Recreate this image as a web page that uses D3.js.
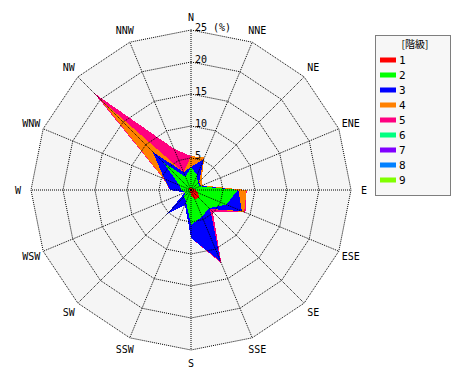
<!DOCTYPE html>
<html><head><meta charset="utf-8">
<script src="https://cdn.jsdelivr.net/npm/d3@7"></script>
<style>body{margin:0;background:#fff}svg{display:block}</style>
</head><body>
<svg id="c" width="470" height="380"></svg>
<script>
const directions = ["N","NNE","NE","ENE","E","ESE","SE","SSE","S","SSW","SW","WSW","W","WNW","NW","NNW"];
const classNames = ["1","2","3","4","5","6","7","8","9"];
const classColors = ["#ff0000","#00ff00","#0000ff","#ff8000","#ff0080","#00ff80","#8000ff","#0080ff","#80ff00"];
// frequency (%) of each class per direction (non-cumulative)
const class1 = [0.3,0.3,0.3,0.5,0.8,1.2,1.8,1.5,0.8,0.3,0.3,0.2,0.2,0.3,0.5,0.3];
const class2 = [3.3,2.2,1.2,1.0,6.5,4.8,2.2,3.0,4.7,1.7,1.2,0.8,1.3,1.7,5.5,1.9];
const class3 = [0.0,2.7,0.3,0.2,0.1,2.6,0.2,7.6,2.0,0.5,3.9,0.0,1.8,2.5,2.5,0.8];
const class4 = [1.7,0.3,0.5,0.2,1.3,0.4,0.0,0.0,0.0,0.0,0.0,0.0,0.0,0.1,11.5,0.0];
const class5 = [0.0,0.0,0.0,0.0,0.0,0.2,0.6,0.3,0.0,0.0,0.0,0.0,0.0,0.1,1.4,4.0];
const class6 = [0,0,0,0,0,0,0,0,0,0,0,0,0,0,0,0];
const class7 = [0,0,0,0,0,0,0,0,0,0,0,0,0,0,0,0];
const class8 = [0,0,0,0,0,0,0,0,0,0,0,0,0,0,0,0];
const class9 = [0,0,0,0,0,0,0,0,0,0,0,0,0,0,0,0];
const ringTicks = [5,10,15,20,25];
const ringLabels = ["5","10","15","20","25 (%)"];

const series = [class1,class2,class3,class4,class5,class6,class7,class8,class9];
const cx = 191, cy = 190, R = 160;
const svg = d3.select("#c");
const g = svg.append("g").attr("transform",`translate(${cx},${cy})`);
const r = d3.scaleLinear().domain([0,25]).range([0,R]);
const ang = d3.scalePoint().domain(directions).range([0, 2*Math.PI*15/16]);
const pt = (d, v) => { const a = ang(d); return [r(v)*Math.sin(a), -r(v)*Math.cos(a)]; };
const lineFont = "'DejaVu Sans Mono', monospace";

// background
g.append("path").attr("d", d3.line()(directions.map(d=>pt(d,25)))+"Z").attr("fill","#f5f5f5");

// cumulative
const cum = [];
series.forEach((s,i)=>{ cum.push(s.map((v,j)=> v + (i>0?cum[i-1][j]:0))); });
for (let k = series.length-1; k >= 0; k--) {
  g.append("path")
    .attr("d", d3.line()(directions.map((d,j)=>pt(d,cum[k][j])))+"Z")
    .attr("fill", classColors[k]).attr("shape-rendering","crispEdges");
}

// grid rings
ringTicks.forEach(t=>{
  g.append("path").attr("d", d3.line()(directions.map(d=>pt(d,t)))+"Z")
    .attr("fill","none").attr("stroke","#000").attr("stroke-width",1).attr("stroke-dasharray","1,1");
});
directions.forEach(d=>{
  const p = pt(d,25);
  g.append("line").attr("x1",0).attr("y1",0).attr("x2",p[0]).attr("y2",p[1])
    .attr("stroke","#000").attr("stroke-dasharray","1,1");
});
// ring labels
ringTicks.forEach((t,i)=>{
  g.append("text").attr("x",4).attr("y",-r(t)-3).attr("dy","0.35em")
    .attr("font-family",lineFont).attr("font-size",10).attr("fill","#000").text(ringLabels[i]);
});
// direction labels
directions.forEach(d=>{
  const a = ang(d), rr = 173;
  g.append("text").attr("x", rr*Math.sin(a)).attr("y", -rr*Math.cos(a)).attr("dy","0.35em")
    .attr("text-anchor","middle").attr("font-family",lineFont).attr("font-size",10).attr("fill","#000").text(d);
});

// legend
const lg = svg.append("g");
lg.append("rect").attr("x",375.5).attr("y",35.5).attr("width",75).attr("height",160)
  .attr("fill","#f7f7f7").attr("stroke","#000").attr("stroke-dasharray","1,1");
lg.append("text").attr("x",415).attr("y",44).attr("dy","0.35em").attr("text-anchor","middle")
  .attr("font-family","'Noto Sans CJK JP', sans-serif").attr("font-size",10).text("[階級]");
const ly = d3.scalePoint().domain(classNames).range([60,180]);
classNames.forEach((c,i)=>{
  lg.append("rect").attr("x",380).attr("y",ly(c)-2.5).attr("width",16).attr("height",5).attr("fill",classColors[i]);
  lg.append("text").attr("x",399).attr("y",ly(c)).attr("dy","0.35em")
    .attr("font-family",lineFont).attr("font-size",11).text(c);
});
</script>
</body></html>
